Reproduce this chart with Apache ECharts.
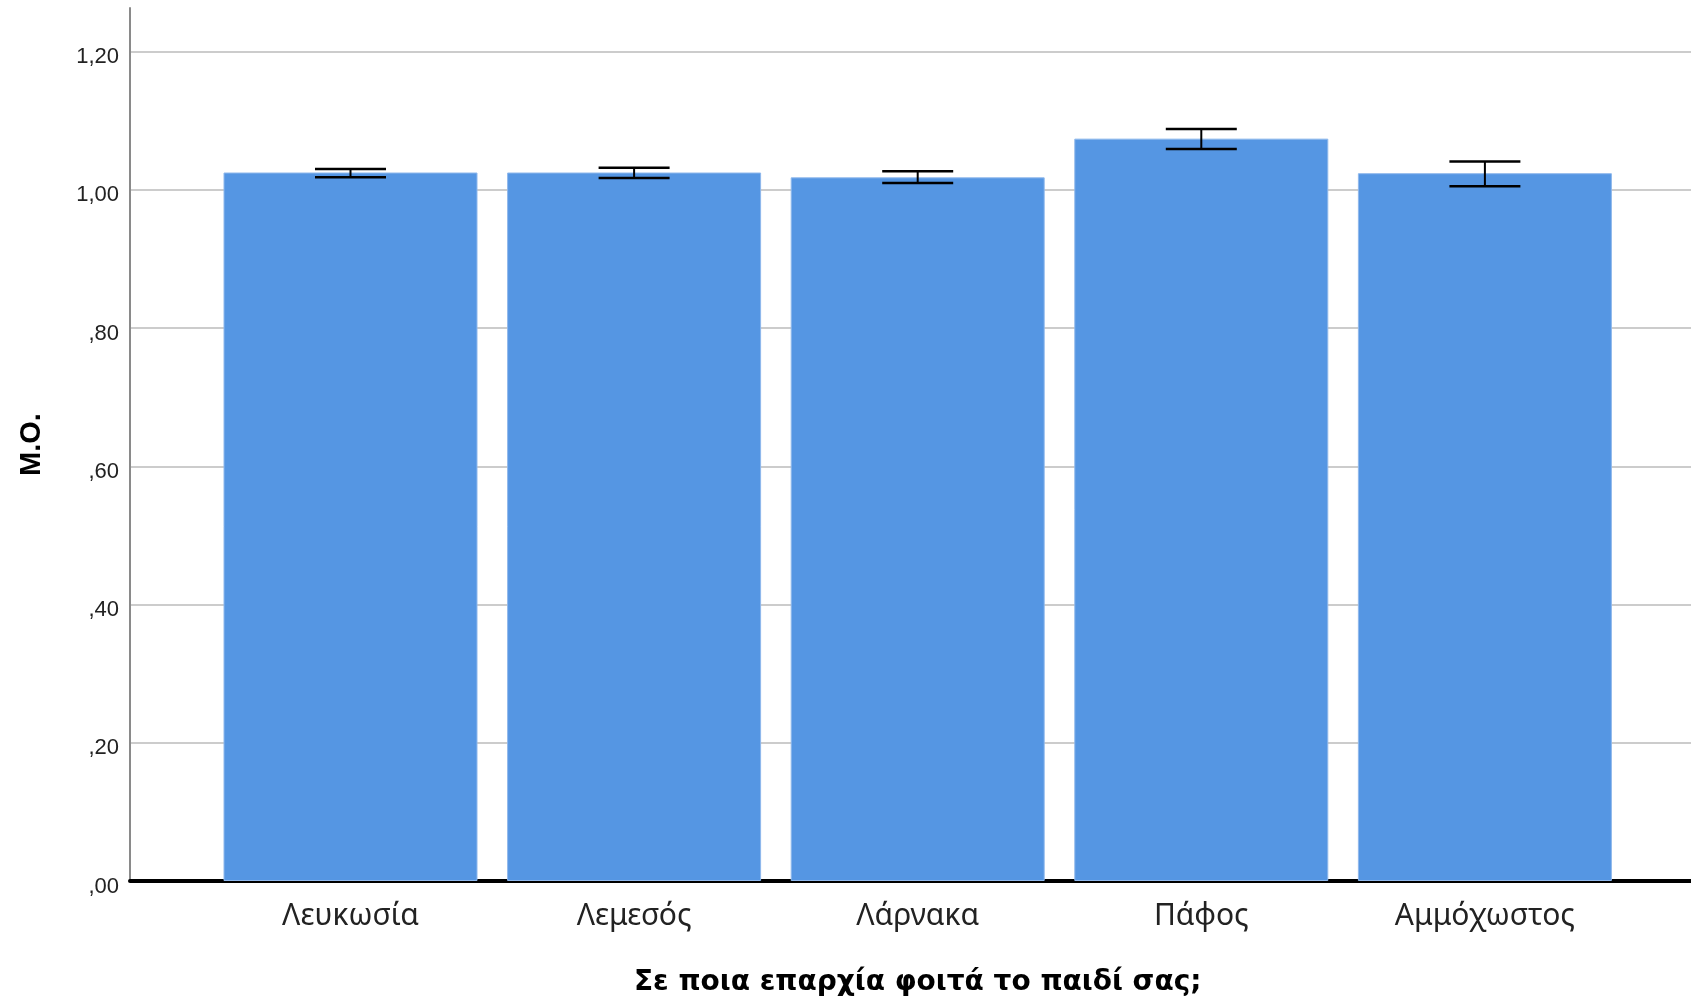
<!DOCTYPE html>
<html>
<head>
<meta charset="utf-8">
<script src="https://cdn.jsdelivr.net/npm/echarts@6/dist/echarts.min.js"></script>
<style>
html,body{margin:0;padding:0;background:#fff;}
#chart{width:1691px;height:1002px;}
</style>
</head>
<body>
<div id="chart"></div>
<script>
var categories = ['Λευκωσία', 'Λεμεσός', 'Λάρνακα', 'Πάφος', 'Αμμόχωστος'];
var means = [1.025, 1.025, 1.018, 1.074, 1.024];
var lower = [1.018, 1.017, 1.010, 1.059, 1.005];
var upper = [1.030, 1.032, 1.027, 1.088, 1.041];
var yTicks = [0, 0.2, 0.4, 0.6, 0.8, 1.0, 1.2];
var yMax = 1.263;
var xTitle = 'Σε ποια επαρχία φοιτά το παιδί σας;';
var yTitle = 'M.O.';

function fmt(v) {
  var s = v.toFixed(2).replace('.', ',');
  if (s.indexOf('0,') === 0) s = s.slice(1);
  return s;
}
function isTick(v) {
  for (var i = 0; i < yTicks.length; i++) if (Math.abs(yTicks[i] - v) < 1e-6) return true;
  return false;
}

var errData = categories.map(function (c, i) { return [i, lower[i], upper[i]]; });

var chart = echarts.init(document.getElementById('chart'), null, {renderer: 'canvas'});
chart.setOption({
  animation: false,
  backgroundColor: '#ffffff',
  grid: [
    {left: 130, right: 0, top: 8, bottom: 121},
    {left: 208.7, width: 1418, top: 8, bottom: 121}
  ],
  xAxis: [
    {gridIndex: 0, type: 'value', min: 0, max: 1,
     axisLine: {show: true, onZero: false, lineStyle: {color: '#000', width: 4}},
     axisTick: {show: false}, axisLabel: {show: false}, splitLine: {show: false}},
    {gridIndex: 1, type: 'category', data: categories,
     axisLine: {show: false}, axisTick: {show: false},
     axisLabel: {fontFamily: 'Noto Sans', fontSize: 30, color: '#222', margin: 20},
     name: xTitle, nameLocation: 'middle', nameGap: 88,
     nameTextStyle: {fontFamily: 'DejaVu Sans', fontWeight: 'bold', fontSize: 28, color: '#000'}}
  ],
  yAxis: [
    {gridIndex: 0, type: 'value', min: 0, max: yMax, interval: 0.2,
     axisLine: {show: true, lineStyle: {color: '#8a8a8a', width: 2}},
     axisTick: {show: false},
     axisLabel: {fontFamily: 'Liberation Sans', fontSize: 22, color: '#222', margin: 11,
                 verticalAlign: 'top', lineHeight: 11,
                 formatter: function (v) { return isTick(v) ? fmt(v) : ''; }},
     splitLine: {show: true, showMinLine: false, showMaxLine: false, lineStyle: {color: '#cccccc', width: 2}},
     name: yTitle, nameLocation: 'middle', nameGap: 84,
     nameTextStyle: {fontFamily: 'Liberation Sans', fontWeight: 'bold', fontSize: 29, color: '#000'}},
    {gridIndex: 1, type: 'value', min: 0, max: yMax, show: false}
  ],
  series: [
    {type: 'bar', xAxisIndex: 1, yAxisIndex: 1, data: means, barWidth: 254,
     itemStyle: {color: '#5596e3', borderColor: '#8fb8ec', borderWidth: 1}, z: 2},
    {type: 'custom', xAxisIndex: 1, yAxisIndex: 1, data: errData, z: 5,
     renderItem: function (params, api) {
       var x = api.value(0);
       var lo = api.coord([x, api.value(1)]);
       var hi = api.coord([x, api.value(2)]);
       var hw = 35.5;
       var st = {stroke: '#000', lineWidth: 2.5};
       return {type: 'group', children: [
         {type: 'line', shape: {x1: hi[0], y1: hi[1], x2: lo[0], y2: lo[1]}, style: {stroke: '#000', lineWidth: 2}},
         {type: 'line', shape: {x1: hi[0] - hw, y1: hi[1], x2: hi[0] + hw, y2: hi[1]}, style: st},
         {type: 'line', shape: {x1: lo[0] - hw, y1: lo[1], x2: lo[0] + hw, y2: lo[1]}, style: st}
       ]};
     }}
  ]
});
</script>
</body>
</html>
